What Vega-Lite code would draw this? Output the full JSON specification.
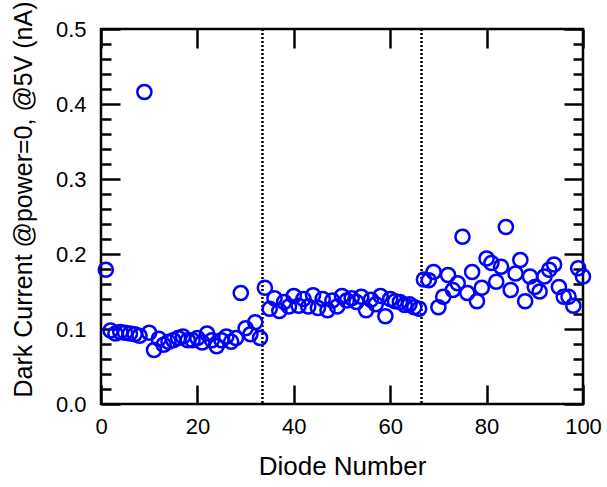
{
  "$schema": "https://vega.github.io/schema/vega-lite/v6.json",
  "width": 482,
  "height": 375,
  "autosize": "none",
  "padding": {"left": 101, "top": 29, "right": 24, "bottom": 83},
  "background": "white",
  "config": {
    "view": {"stroke": "black", "strokeWidth": 2.5},
    "font": "Liberation Sans",
    "axis": {"domain": false, "grid": false, "tickColor": "black", "tickWidth": 2.5, "labelColor": "black", "titleColor": "black", "labelFont": "Liberation Sans", "titleFont": "Liberation Sans", "labelFontSize": 22, "titleFontSize": 26, "titleFontWeight": "normal"}
  },
  "datasets": {
    "diodes": [
      {"d":1,"v":0.179},{"d":2,"v":0.098},{"d":3,"v":0.094},{"d":4,"v":0.096},{"d":5,"v":0.095},
      {"d":6,"v":0.094},{"d":7,"v":0.093},{"d":8,"v":0.091},{"d":9,"v":0.416},{"d":10,"v":0.095},
      {"d":11,"v":0.072},{"d":12,"v":0.087},{"d":13,"v":0.079},{"d":14,"v":0.083},{"d":15,"v":0.085},
      {"d":16,"v":0.088},{"d":17,"v":0.090},{"d":18,"v":0.085},{"d":19,"v":0.085},{"d":20,"v":0.088},
      {"d":21,"v":0.082},{"d":22,"v":0.094},{"d":23,"v":0.085},{"d":24,"v":0.077},{"d":25,"v":0.085},
      {"d":26,"v":0.090},{"d":27,"v":0.083},{"d":28,"v":0.088},{"d":29,"v":0.148},{"d":30,"v":0.101},
      {"d":31,"v":0.093},{"d":32,"v":0.109},{"d":33,"v":0.088},{"d":34,"v":0.155},{"d":35,"v":0.127},
      {"d":36,"v":0.141},{"d":37,"v":0.124},{"d":38,"v":0.136},{"d":39,"v":0.130},{"d":40,"v":0.144},
      {"d":41,"v":0.131},{"d":42,"v":0.140},{"d":43,"v":0.130},{"d":44,"v":0.145},{"d":45,"v":0.128},
      {"d":46,"v":0.140},{"d":47,"v":0.125},{"d":48,"v":0.138},{"d":49,"v":0.130},{"d":50,"v":0.144},
      {"d":51,"v":0.138},{"d":52,"v":0.141},{"d":53,"v":0.136},{"d":54,"v":0.143},{"d":55,"v":0.125},
      {"d":56,"v":0.139},{"d":57,"v":0.133},{"d":58,"v":0.144},{"d":59,"v":0.117},{"d":60,"v":0.140},
      {"d":61,"v":0.137},{"d":62,"v":0.136},{"d":63,"v":0.132},{"d":64,"v":0.133},{"d":65,"v":0.129},
      {"d":66,"v":0.127},{"d":67,"v":0.166},{"d":68,"v":0.165},{"d":69,"v":0.176},{"d":70,"v":0.129},
      {"d":71,"v":0.143},{"d":72,"v":0.172},{"d":73,"v":0.152},{"d":74,"v":0.161},{"d":75,"v":0.223},
      {"d":76,"v":0.148},{"d":77,"v":0.176},{"d":78,"v":0.137},{"d":79,"v":0.155},{"d":80,"v":0.194},
      {"d":81,"v":0.188},{"d":82,"v":0.163},{"d":83,"v":0.183},{"d":84,"v":0.236},{"d":85,"v":0.152},
      {"d":86,"v":0.174},{"d":87,"v":0.192},{"d":88,"v":0.137},{"d":89,"v":0.170},{"d":90,"v":0.156},
      {"d":91,"v":0.150},{"d":92,"v":0.170},{"d":93,"v":0.179},{"d":94,"v":0.186},{"d":95,"v":0.156},
      {"d":96,"v":0.143},{"d":97,"v":0.143},{"d":98,"v":0.131},{"d":99,"v":0.181},{"d":100,"v":0.170}
    ],
    "dividers": [{"d": 33.5}, {"d": 66.5}]
  },
  "resolve": {"axis": {"x": "independent", "y": "independent"}},
  "layer": [
    {
      "data": {"name": "dividers"},
      "mark": {"type": "rule", "color": "black", "strokeWidth": 2.5, "strokeDash": [2, 2]},
      "encoding": {
        "x": {"field": "d", "type": "quantitative", "scale": {"domain": [0, 100], "nice": false}, "axis": null}
      }
    },
    {
      "data": {"name": "diodes"},
      "mark": {"type": "point", "shape": "circle", "filled": false, "color": "#0000ff", "strokeWidth": 2.5, "size": 200, "opacity": 1},
      "encoding": {
        "x": {"field": "d", "type": "quantitative", "scale": {"domain": [0, 100], "nice": false},
          "axis": {"orient": "bottom", "title": "Diode Number", "values": [0, 20, 40, 60, 80, 100], "tickSize": -19, "labelPadding": 31, "titlePadding": 16, "labelFlush": false}},
        "y": {"field": "v", "type": "quantitative", "scale": {"domain": [0, 0.5], "nice": false},
          "axis": {"orient": "left", "title": "Dark Current @power=0, @5V (nA)", "titleFontSize": 25,
            "values": [0,0.02,0.04,0.06,0.08,0.1,0.12,0.14,0.16,0.18,0.2,0.22,0.24,0.26,0.28,0.3,0.32,0.34,0.36,0.38,0.4,0.42,0.44,0.46,0.48,0.5],
            "labelExpr": "abs(round(datum.value*10)-datum.value*10) < 0.001 ? format(datum.value, '.1f') : ''",
            "tickSize": {"condition": {"test": "abs(round(datum.value*10)-datum.value*10) < 0.001", "value": -19}, "value": -10},
            "labelPadding": 34, "titlePadding": 19, "titleY": 170, "labelFlush": false}}
      }
    },
    {
      "data": {"name": "diodes"},
      "mark": {"type": "point", "opacity": 0},
      "encoding": {
        "x": {"field": "d", "type": "quantitative", "scale": {"domain": [0, 100], "nice": false},
          "axis": {"orient": "top", "title": null, "labels": false, "values": [0, 20, 40, 60, 80, 100], "tickSize": -19}},
        "y": {"field": "v", "type": "quantitative", "scale": {"domain": [0, 0.5], "nice": false},
          "axis": {"orient": "right", "title": null, "labels": false,
            "values": [0,0.02,0.04,0.06,0.08,0.1,0.12,0.14,0.16,0.18,0.2,0.22,0.24,0.26,0.28,0.3,0.32,0.34,0.36,0.38,0.4,0.42,0.44,0.46,0.48,0.5],
            "tickSize": {"condition": {"test": "abs(round(datum.value*10)-datum.value*10) < 0.001", "value": -19}, "value": -10}}}
      }
    }
  ]
}
